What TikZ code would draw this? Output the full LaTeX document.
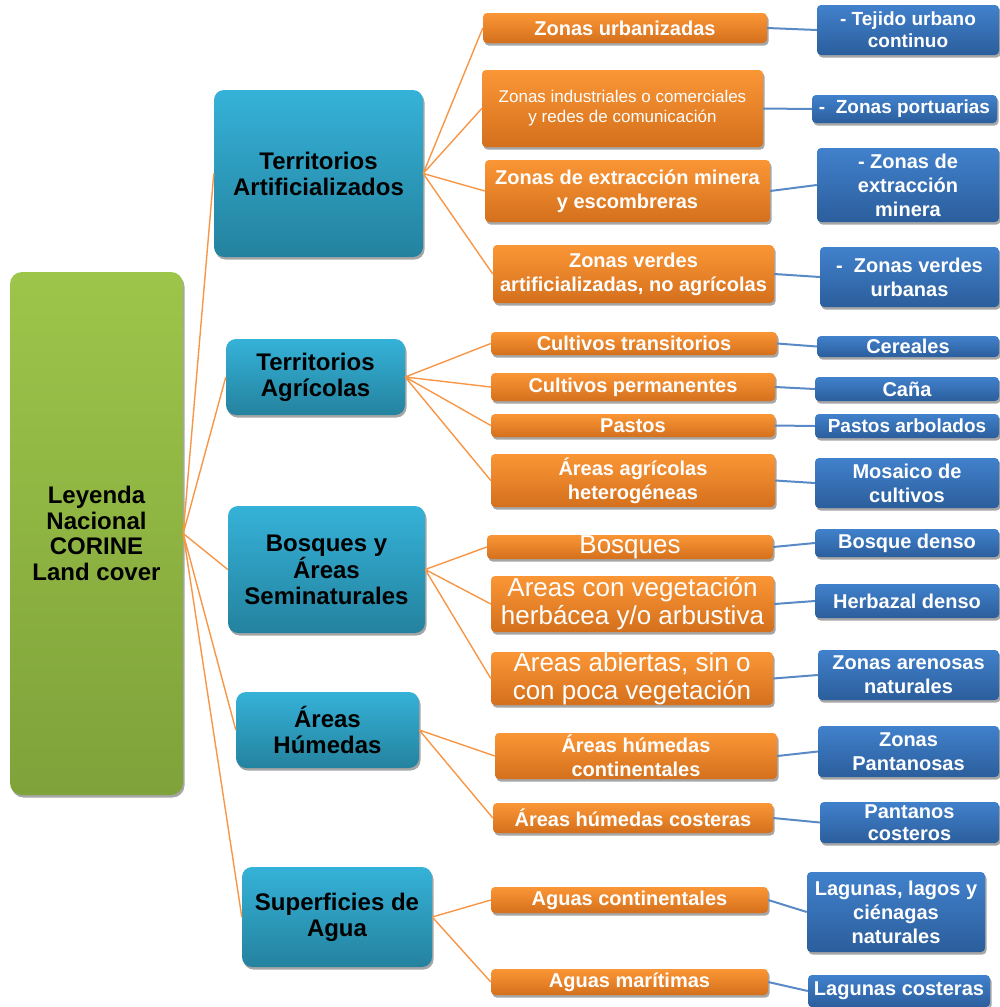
\documentclass[tikz,border=0pt]{standalone}
\usepackage{fontspec}
\setmainfont{Liberation Sans}
\usetikzlibrary{shadows}
\definecolor{rootTop}{HTML}{9DC54A}
\definecolor{rootBot}{HTML}{7FA23A}
\definecolor{topicTop}{HTML}{35B2D8}
\definecolor{topicBot}{HTML}{24829E}
\definecolor{subTop}{HTML}{FB9636}
\definecolor{subBot}{HTML}{D4701C}
\definecolor{leafTop}{HTML}{4181CC}
\definecolor{leafBot}{HTML}{2B5E9C}
\definecolor{branchLine}{HTML}{F79646}
\definecolor{twigLine}{HTML}{5A8AC6}
\newcommand\fsz[2]{\fontsize{#1}{#2}\selectfont}

\begin{document}
\begin{tikzpicture}[x=1pt, y=-1pt,
  boxbase/.style={rounded corners=4pt, inner sep=0pt, align=center,
    drop shadow={shadow xshift=1.5pt, shadow yshift=-2.5pt, opacity=0.35, fill=black}},
  rootbox/.style={boxbase, rounded corners=12pt, top color=rootTop, bottom color=rootBot,
    font=\bfseries\fsz{24}{25.5}},
  topic/.style={boxbase, rounded corners=10pt, top color=topicTop, bottom color=topicBot,
    font=\bfseries\fsz{24}{26}},
  sub/.style={boxbase, top color=subTop, bottom color=subBot, text=white,
    font=\bfseries\fsz{20}{24}},
  leaf/.style={boxbase, top color=leafTop, bottom color=leafBot, text=white,
    font=\bfseries\fsz{20}{24}},
  branch/.style={draw=branchLine, line width=1.4pt},
  twig/.style={draw=twigLine, line width=2pt}]
\useasboundingbox (0,0) rectangle (1000,1007);

\node[rootbox, minimum width=173pt, minimum height=523pt] (root) at (96.5,533.5) {Leyenda\\Nacional\\CORINE\\Land cover};

\node[topic, minimum width=209pt, minimum height=167pt] (artif) at (318.5,173.5) {Territorios\\Artificializados};
\node[topic, minimum width=179pt, minimum height=76pt] (agric) at (315.5,377) {Territorios\\Agrícolas};
\node[topic, minimum width=197pt, minimum height=127pt] (bosq) at (326.5,569.5) {Bosques y\\Áreas\\Seminaturales};
\node[topic, minimum width=183pt, minimum height=76pt] (humed) at (327.5,730) {Áreas\\Húmedas};
\node[topic, minimum width=190pt, minimum height=100pt] (agua) at (337,917) {Superficies de\\Agua};

\node[sub, minimum width=284pt, minimum height=30pt] (urban) at (625,28) {Zonas urbanizadas};
\node[sub, minimum width=281pt, minimum height=77pt, font=\fsz{17}{20}] (indus) at (622.5,108.5) {Zonas industriales o comerciales\\y redes de comunicación};
\node[sub, minimum width=285pt, minimum height=62pt] (extrac) at (627.5,191) {Zonas de extracción minera\\y escombreras};
\node[sub, minimum width=281pt, minimum height=58pt] (verdes) at (633.5,274) {Zonas verdes\\artificializadas, no agrícolas};

\node[sub, minimum width=286pt, minimum height=23pt] (transit) at (634,343.5) {Cultivos transitorios};
\node[sub, minimum width=284pt, minimum height=28pt] (perman) at (633,387) {Cultivos permanentes};
\node[sub, minimum width=284pt, minimum height=23pt] (pastos) at (633,425.5) {Pastos};
\node[sub, minimum width=284pt, minimum height=53pt] (hetero) at (633,480.5) {Áreas agrícolas\\heterogéneas};

\node[sub, minimum width=286pt, minimum height=24pt, font=\fsz{26}{28}] (bosques) at (630,547) {Bosques};
\node[sub, minimum width=283pt, minimum height=56pt, font=\fsz{26}{28}] (herbac) at (632.5,604) {Areas con vegetación\\herbácea y/o arbustiva};
\node[sub, minimum width=282pt, minimum height=53pt, font=\fsz{26}{28}] (abiert) at (632,678.5) {Areas abiertas, sin o\\con poca vegetación};

\node[sub, minimum width=282pt, minimum height=46pt] (hcont) at (636,756) {Áreas húmedas\\continentales};
\node[sub, minimum width=280pt, minimum height=30pt] (hcost) at (633,818) {Áreas húmedas costeras};

\node[sub, minimum width=277pt, minimum height=26pt] (acont) at (629.5,900) {Aguas continentales};
\node[sub, minimum width=277pt, minimum height=26pt] (amar) at (629.5,982) {Aguas marítimas};

\node[leaf, minimum width=182pt, minimum height=50pt, font=\bfseries\fsz{19}{22}] (tejido) at (908,30) {- Tejido urbano\\continuo};
\node[leaf, minimum width=185pt, minimum height=28pt, font=\bfseries\fsz{19}{22}] (portua) at (904.5,109) {-\ \ Zonas portuarias};
\node[leaf, minimum width=182pt, minimum height=74pt] (mineras) at (908,185) {- Zonas de\\extracción\\minera};
\node[leaf, minimum width=179pt, minimum height=60pt] (vurban) at (909.5,277) {-\ \ Zonas verdes\\urbanas};

\node[leaf, minimum width=182pt, minimum height=21pt] (cereal) at (908,346.5) {Cereales};
\node[leaf, minimum width=184pt, minimum height=24pt] (cana) at (907,389) {Caña};
\node[leaf, minimum width=184pt, minimum height=24pt, font=\bfseries\fsz{19}{22}] (parbol) at (907,426) {Pastos arbolados};
\node[leaf, minimum width=184pt, minimum height=50pt] (mosaic) at (907,483) {Mosaico de\\cultivos};

\node[leaf, minimum width=184pt, minimum height=28pt] (bdenso) at (907,543) {Bosque denso};
\node[leaf, minimum width=184pt, minimum height=34pt] (herbaz) at (907,601) {Herbazal denso};
\node[leaf, minimum width=181pt, minimum height=50pt] (arenos) at (908.5,675) {Zonas arenosas\\naturales};

\node[leaf, minimum width=181pt, minimum height=51pt] (pantan) at (908.5,751.5) {Zonas\\Pantanosas};
\node[leaf, minimum width=179pt, minimum height=41pt, font=\bfseries\fsz{20}{22}] (pcost) at (909.5,822.5) {Pantanos\\costeros};

\node[leaf, minimum width=178pt, minimum height=80pt] (lagunas) at (896,912) {Lagunas, lagos y\\ciénagas\\naturales};
\node[leaf, minimum width=182pt, minimum height=32pt] (lcost) at (899,991) {Lagunas costeras};

\draw[branch] (root.east) -- (artif.west) (root.east) -- (agric.west) (root.east) -- (bosq.west)
  (root.east) -- (humed.west) (root.east) -- (agua.west);
\draw[branch] (artif.east) -- (urban.west) (artif.east) -- (indus.west) (artif.east) -- (extrac.west)
  (artif.east) -- (verdes.west);
\draw[branch] (agric.east) -- (transit.west) (agric.east) -- (perman.west) (agric.east) -- (pastos.west)
  (agric.east) -- (hetero.west);
\draw[branch] (bosq.east) -- (bosques.west) (bosq.east) -- (herbac.west) (bosq.east) -- (abiert.west);
\draw[branch] (humed.east) -- (hcont.west) (humed.east) -- (hcost.west);
\draw[branch] (agua.east) -- (acont.west) (agua.east) -- (amar.west);

\draw[twig] (urban.east) -- (tejido.west) (indus.east) -- (portua.west) (extrac.east) -- (mineras.west)
  (verdes.east) -- (vurban.west);
\draw[twig] (transit.east) -- (cereal.west) (perman.east) -- (cana.west) (pastos.east) -- (parbol.west)
  (hetero.east) -- (mosaic.west);
\draw[twig] (bosques.east) -- (bdenso.west) (herbac.east) -- (herbaz.west) (abiert.east) -- (arenos.west);
\draw[twig] (hcont.east) -- (pantan.west) (hcost.east) -- (pcost.west);
\draw[twig] (acont.east) -- (lagunas.west) (amar.east) -- (lcost.west);
\end{tikzpicture}
\end{document}
